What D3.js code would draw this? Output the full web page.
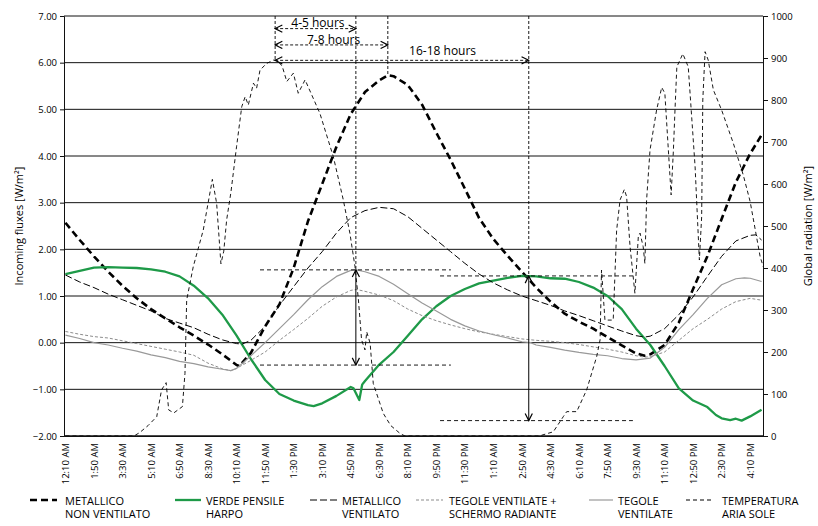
<!DOCTYPE html>
<html><head><meta charset="utf-8">
<script src="https://cdn.jsdelivr.net/npm/d3@7/dist/d3.min.js"></script>
<style>body{margin:0;background:#fff;} text{font-family:"Open Sans",sans-serif;fill:#000;}</style>
</head><body><svg id="c" width="818" height="526"></svg>
<script>
// ---- categories: 10-minute steps starting 12:10 AM, 245 steps ----
const stepCount = 245;
const tickLabels = ["12:10 AM","1:50 AM","3:30 AM","5:10 AM","6:50 AM","8:30 AM","10:10 AM","11:50 AM","1:30 PM","3:10 PM","4:50 PM","6:30 PM","8:10 PM","9:50 PM","11:30 PM","1:10 AM","2:50 AM","4:30 AM","6:10 AM","7:50 AM","9:30 AM","11:10 AM","12:50 PM","2:30 PM","4:10 PM"];
const tickEvery = 10;
const leftTicks = [-2,-1,0,1,2,3,4,5,6,7];
const rightTicks = [0,100,200,300,400,500,600,700,800,900,1000];

// ---- series: [step, value] ----
const metNonVent = [[0,2.57],[5,2.2],[10,1.85],[15,1.52],[20,1.22],[25,0.95],[30,0.72],[35,0.52],[40,0.33],[45,0.15],[50,-0.04],[55,-0.25],[60,-0.48],[61,-0.5],[65,-0.22],[70,0.35],[75,0.82],[80,1.6],[85,2.6],[90,3.4],[95,4.2],[100,4.9],[105,5.37],[110,5.62],[113,5.73],[115,5.71],[120,5.52],[125,5.1],[130,4.5],[135,3.92],[140,3.3],[145,2.67],[150,2.22],[155,1.86],[160,1.52],[165,1.18],[170,0.88],[175,0.62],[180,0.45],[185,0.3],[190,0.12],[195,-0.06],[200,-0.23],[203,-0.28],[205,-0.25],[210,-0.05],[215,0.43],[220,1.15],[225,1.85],[230,2.65],[235,3.44],[240,4.05],[244,4.45]];
const verdeHarpo = [[0,1.47],[5,1.54],[10,1.61],[15,1.62],[20,1.61],[25,1.6],[30,1.57],[35,1.52],[40,1.42],[45,1.22],[50,0.95],[55,0.6],[60,0.15],[65,-0.35],[70,-0.8],[75,-1.1],[80,-1.24],[85,-1.34],[87,-1.36],[90,-1.3],[95,-1.14],[100,-0.95],[101,-0.98],[103,-1.23],[104,-0.9],[105,-0.82],[110,-0.47],[115,-0.2],[120,0.15],[125,0.5],[130,0.78],[135,1.0],[140,1.15],[145,1.27],[150,1.33],[155,1.39],[160,1.43],[165,1.42],[170,1.38],[175,1.37],[180,1.3],[185,1.18],[190,1.0],[195,0.72],[200,0.3],[205,-0.05],[210,-0.5],[215,-0.98],[220,-1.24],[225,-1.38],[228,-1.55],[230,-1.62],[233,-1.66],[235,-1.63],[237,-1.67],[240,-1.58],[244,-1.44]];
const metVent = [[0,1.45],[5,1.3],[10,1.18],[15,1.04],[20,0.92],[25,0.8],[30,0.68],[35,0.52],[40,0.42],[45,0.32],[50,0.18],[55,0.06],[60,-0.02],[62,-0.03],[65,0.05],[70,0.35],[75,0.8],[80,1.2],[85,1.6],[90,1.95],[95,2.35],[100,2.68],[105,2.83],[110,2.9],[115,2.87],[120,2.7],[125,2.45],[130,2.2],[135,1.95],[140,1.7],[145,1.47],[150,1.28],[155,1.13],[160,1.0],[165,0.9],[170,0.8],[175,0.68],[180,0.58],[185,0.47],[190,0.36],[195,0.25],[200,0.15],[203,0.12],[205,0.14],[210,0.3],[215,0.6],[220,0.98],[225,1.42],[230,1.85],[235,2.18],[240,2.3],[242,2.31],[244,2.2]];
const tegoleSchermo = [[0,0.24],[5,0.18],[10,0.13],[15,0.1],[20,0.04],[25,-0.02],[30,-0.08],[35,-0.14],[40,-0.2],[45,-0.27],[50,-0.44],[55,-0.56],[58,-0.6],[60,-0.55],[65,-0.38],[70,-0.2],[75,0.05],[80,0.28],[85,0.52],[90,0.78],[95,0.98],[100,1.12],[102,1.14],[105,1.1],[110,1.02],[115,0.9],[120,0.72],[125,0.58],[130,0.47],[135,0.38],[140,0.3],[145,0.23],[150,0.18],[155,0.13],[160,0.08],[165,0.05],[170,0.03],[175,0.0],[180,-0.04],[185,-0.09],[190,-0.14],[195,-0.2],[200,-0.28],[203,-0.31],[205,-0.3],[210,-0.2],[215,0.05],[220,0.3],[225,0.5],[230,0.72],[235,0.88],[240,0.95],[244,0.91]];
const tegoleVent = [[0,0.16],[5,0.09],[10,0.0],[15,-0.05],[20,-0.12],[25,-0.18],[30,-0.26],[35,-0.32],[40,-0.4],[45,-0.45],[50,-0.52],[55,-0.57],[58,-0.6],[60,-0.55],[65,-0.28],[70,0.0],[75,0.3],[80,0.6],[85,0.92],[90,1.2],[95,1.42],[100,1.55],[102,1.56],[105,1.52],[110,1.42],[115,1.25],[120,1.05],[125,0.85],[130,0.68],[135,0.5],[140,0.36],[145,0.25],[150,0.17],[155,0.1],[160,0.02],[163,0.0],[165,-0.05],[170,-0.1],[175,-0.16],[180,-0.21],[185,-0.25],[190,-0.28],[195,-0.34],[200,-0.37],[205,-0.33],[210,-0.1],[215,0.28],[220,0.6],[225,0.95],[230,1.24],[235,1.37],[238,1.39],[240,1.38],[244,1.31]];
// right axis (W/m2)
const ariaSole = [[0,0],[24,0],[26,8],[29,25],[32,46],[33.7,110],[35.3,127],[36.2,62],[38,55],[41,70],[41.9,149],[42.5,324],[44.8,403],[48.3,490],[51.5,611],[53,554],[54.5,410],[55.5,440],[56.5,514],[58,580],[60,690],[61.8,784],[63,808],[64.1,788],[65.9,840],[67,828],[68.2,871],[70.5,887],[72.9,895],[74,895],[75.2,887],[76,880],[77.6,844],[79.9,864],[81.6,816],[84,848],[89.2,768],[93.9,665],[97.4,562],[99.7,483],[101.5,403],[102.7,324],[103.8,229],[105,205],[105.6,248],[106.8,221],[107.9,125],[111.4,54],[114,25],[117.3,6],[119,0],[166,0],[171,10],[174.5,46],[175.7,58],[179.2,58],[182.7,110],[186.2,189],[187.4,229],[187.9,395],[189.1,276],[192,276],[193.2,490],[194.4,562],[195.9,587],[196.7,570],[197.9,451],[199.6,340],[200.8,475],[201.4,483],[202.5,451],[203.1,411],[203.7,562],[204.9,681],[207.2,776],[209,830],[210.1,816],[212.3,574],[213.1,681],[213.7,784],[214.3,879],[216.4,910],[218.3,879],[219.5,760],[220.7,641],[222.2,419],[223,522],[223.4,800],[224.2,915],[225.3,895],[227.1,824],[230,776],[234.1,697],[237.6,621],[240,558],[243.5,427],[244.6,403]];

// ---- annotations in data units (step, left-axis value) ----
const spanArrows = [
  {label:"4-5 hours", from:73.5, to:101.8, y:6.73, labelAt:88.5, labelY:6.76},
  {label:"7-8 hours", from:73.5, to:113, y:6.38, labelAt:94, labelY:6.41},
  {label:"16-18 hours", from:73.5, to:162.4, y:6.05, labelAt:132.2, labelY:6.16}
];
const guideLines = [{x:73.5, bottom:6.05},{x:101.8, bottom:1.56},{x:113, bottom:5.73},{x:162.4, bottom:1.43}];
const rangeArrows = [{x:101.8, top:1.56, bottom:-0.48},{x:162.4, top:1.43, bottom:-1.67}];
const refLines = [{y:1.56, from:68.2, to:135.1},{y:-0.48, from:68.2, to:135.1},{y:1.43, from:131.3, to:198.9},{y:-1.67, from:131.3, to:198.9}];

const series = [
  {name:["METALLICO","NON VENTILATO"], data:metNonVent, axis:"L", color:"#000", width:2.6, dash:"7,4", lg:[30,57,65]},
  {name:["VERDE PENSILE","HARPO"], data:verdeHarpo, axis:"L", color:"#1e9a48", width:2.3, dash:null, lg:[175,201,206]},
  {name:["METALLICO","VENTILATO"], data:metVent, axis:"L", color:"#000", width:1, dash:"7,3", lg:[310,337,342]},
  {name:["TEGOLE VENTILATE +","SCHERMO RADIANTE"], data:tegoleSchermo, axis:"L", color:"#8c8c8c", width:1, dash:"3,2", lg:[416,443,449]},
  {name:["TEGOLE","VENTILATE"], data:tegoleVent, axis:"L", color:"#999", width:1.2, dash:null, lg:[589,613,618]},
  {name:["TEMPERATURA","ARIA SOLE"], data:ariaSole, axis:"R", color:"#000", width:0.9, dash:"4,3", lg:[686,712,722]}
];

const svg = d3.select("#c");
const L=64, R=763, T=16, B=436;
const x = d3.scaleLinear().domain([-0.5, stepCount-0.5]).range([L,R]);
const yL = d3.scaleLinear().domain([-2,7]).range([B,T]);
const yR = d3.scaleLinear().domain([0,1000]).range([B,T]);

// grid
svg.append("g").selectAll("line").data(leftTicks).join("line")
  .attr("x1",L).attr("x2",R).attr("y1",d=>yL(d)).attr("y2",d=>yL(d))
  .attr("stroke","#111").attr("stroke-width",1);

// axes
const axL = svg.append("g").attr("transform",`translate(${L},0)`)
  .call(d3.axisLeft(yL).tickValues(leftTicks).tickFormat(d3.format(".2f")).tickSize(4).tickPadding(3));
const axR = svg.append("g").attr("transform",`translate(${R},0)`)
  .call(d3.axisRight(yR).tickValues(rightTicks).tickFormat(d3.format("d")).tickSize(5).tickPadding(3));
const axB = svg.append("g").attr("transform",`translate(0,${B})`)
  .call(d3.axisBottom(x).tickValues(d3.range(0, stepCount, tickEvery)).tickFormat((d,i)=>tickLabels[i]).tickSize(0).tickPadding(0));
[axL,axR,axB].forEach(a=>{a.selectAll("path,line").attr("stroke","#111"); a.selectAll("text").style("font-size","9.5px").attr("fill","#000");});
axB.selectAll(".tick text").attr("transform","rotate(-90)").attr("text-anchor","end").attr("dx","-7").attr("dy","0.33em").attr("x",0).attr("y",0);
svg.append("line").attr("x1",L).attr("x2",R).attr("y1",B).attr("y2",B).attr("stroke","#111");

// axis titles
svg.append("text").attr("transform",`translate(23,${(T+B)/2}) rotate(-90)`).attr("text-anchor","middle")
  .style("font-size","11px").text("Incoming fluxes [W/m²]");
svg.append("text").attr("transform",`translate(812,${(T+B)/2}) rotate(-90)`).attr("text-anchor","middle")
  .style("font-size","11px").text("Global radiation [W/m²]");

// clip
svg.append("clipPath").attr("id","pc").append("rect").attr("x",L).attr("y",T-2).attr("width",R-L).attr("height",B-T+2);
const plot = svg.append("g").attr("clip-path","url(#pc)");

// annotations
const ann = svg.append("g").attr("fill","none");
const defs = svg.append("defs");
defs.append("marker").attr("id","ah").attr("viewBox","0 0 10 10").attr("refX",9).attr("refY",5)
  .attr("markerWidth",9).attr("markerHeight",9).attr("orient","auto-start-reverse").attr("markerUnits","userSpaceOnUse")
  .append("path").attr("d","M1,1 L9,5 L1,9").attr("fill","none").attr("stroke","#000").attr("stroke-width",1.3);
ann.selectAll(".g").data(guideLines).join("line")
  .attr("x1",d=>x(d.x)).attr("x2",d=>x(d.x)).attr("y1",T).attr("y2",d=>yL(d.bottom))
  .attr("stroke","#000").attr("stroke-width",0.9).attr("stroke-dasharray","3,2");
ann.selectAll(".r").data(refLines).join("line")
  .attr("x1",d=>x(d.from)).attr("x2",d=>x(d.to)).attr("y1",d=>yL(d.y)).attr("y2",d=>yL(d.y))
  .attr("stroke","#000").attr("stroke-width",0.9).attr("stroke-dasharray","4,3");
ann.selectAll(".s").data(spanArrows).join("line")
  .attr("x1",d=>x(d.from)).attr("x2",d=>x(d.to)).attr("y1",d=>yL(d.y)).attr("y2",d=>yL(d.y))
  .attr("stroke","#000").attr("stroke-width",0.9).attr("stroke-dasharray","3,2")
  .attr("marker-start","url(#ah)").attr("marker-end","url(#ah)");
ann.selectAll(".v").data(rangeArrows).join("line")
  .attr("x1",d=>x(d.x)).attr("x2",d=>x(d.x)).attr("y1",d=>yL(d.top)).attr("y2",d=>yL(d.bottom))
  .attr("stroke","#000").attr("stroke-width",1)
  .attr("marker-start","url(#ah)").attr("marker-end","url(#ah)");
svg.append("g").selectAll("text").data(spanArrows).join("text")
  .attr("x",d=>x(d.labelAt)).attr("y",d=>yL(d.labelY)).attr("text-anchor","middle")
  .style("font-size","12px").text(d=>d.label);

// series
series.forEach(s=>{
  const yy = s.axis==="L"?yL:yR;
  const line = d3.line().x(d=>x(d[0])).y(d=>yy(d[1]));
  plot.append("path").datum(s.data).attr("d",line).attr("fill","none")
    .attr("stroke",s.color).attr("stroke-width",s.width).attr("stroke-dasharray",s.dash)
    .attr("stroke-linejoin","round");
});

// legend
const lg = svg.append("g");
series.forEach(s=>{
  lg.append("line").attr("x1",s.lg[0]).attr("x2",s.lg[1]).attr("y1",500).attr("y2",500)
    .attr("stroke",s.color).attr("stroke-width",Math.max(s.width,1.2)).attr("stroke-dasharray",s.dash);
  const t = lg.append("text").attr("x",s.lg[2]).attr("y",504.5).style("font-size","11px");
  t.append("tspan").attr("x",s.lg[2]).text(s.name[0]);
  t.append("tspan").attr("x",s.lg[2]).attr("dy",13.5).text(s.name[1]);
});
</script></body></html>
